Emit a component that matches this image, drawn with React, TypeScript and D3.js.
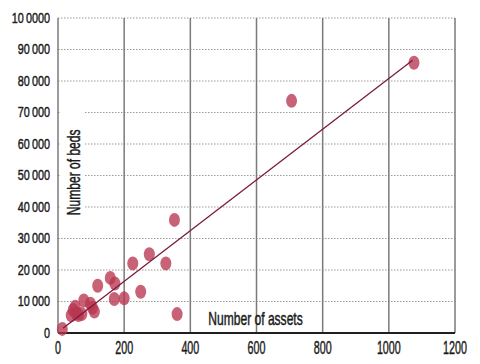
import * as d3 from 'd3';
import React, { useEffect, useRef } from 'react';

// number of assets vs number of beds
const assets = [13, 40, 46, 52, 55, 62, 72, 78, 98, 104, 110, 120, 158, 172, 170, 200, 226, 250, 276, 326, 352, 360, 706, 1076];
const beds = [1300, 5600, 7300, 8300, 6200, 5700, 6000, 10300, 9300, 8000, 6800, 15000, 17500, 15700, 10800, 11000, 22100, 13100, 25000, 22100, 35900, 6000, 73700, 85800];

// fitted line end points
const trendAssets = [15, 1072];
const trendBeds = [1500, 86600];

const xTicks = [0, 200, 400, 600, 800, 1000, 1200];
const yTicks = [0, 10000, 20000, 30000, 40000, 50000, 60000, 70000, 80000, 90000, 100000];
const yTickLabels = ['0', '10\u2009000', '20\u2009000', '30\u2009000', '40\u2009000', '50\u2009000', '60\u2009000', '70\u2009000', '80\u2009000', '90\u2009000', '10\u20090000'];

const FONT = '"Liberation Sans", Arial, sans-serif';

const App = () => {
  const ref = useRef<SVGSVGElement>(null);

  useEffect(() => {
    const width = 480, height = 364;
    const margin = { top: 18, right: 25, bottom: 31, left: 58 };

    const svg = d3.select(ref.current);
    svg.selectAll('*').remove();

    const x = d3.scaleLinear().domain([0, 1200]).range([margin.left, width - margin.right]);
    const y = d3.scaleLinear().domain([0, 100000]).range([height - margin.bottom, margin.top]);

    // condensed looking text: squeeze horizontally, slight stroke to thicken
    const label = (g, tx, ty, txt, size, sx, anchor, rot = 0) => {
      g.append('g')
        .attr('transform', `translate(${tx},${ty}) rotate(${rot}) scale(${sx},1)`)
        .append('text')
        .attr('text-anchor', anchor)
        .attr('font-family', FONT)
        .attr('font-size', size)
        .attr('fill', '#1a1a1a')
        .attr('stroke', '#1a1a1a')
        .attr('stroke-width', 0.45)
        .text(txt);
    };

    // horizontal dotted grid
    svg.append('g')
      .selectAll('line')
      .data(yTicks.slice(1))
      .join('line')
      .attr('x1', x(0))
      .attr('x2', x(1200))
      .attr('y1', d => y(d))
      .attr('y2', d => y(d))
      .attr('stroke', '#9a9a9a')
      .attr('stroke-width', 1)
      .attr('stroke-dasharray', '1.5,1.5');

    // vertical solid grid
    svg.append('g')
      .selectAll('line')
      .data(xTicks)
      .join('line')
      .attr('x1', d => x(d))
      .attr('x2', d => x(d))
      .attr('y1', y(100000))
      .attr('y2', y(0))
      .attr('stroke', '#7a7a7a')
      .attr('stroke-width', 1.5);

    // y title with white backing
    svg.append('rect')
      .attr('x', x(0) + 3).attr('y', y(72500))
      .attr('width', 23).attr('height', 113)
      .attr('fill', '#fff');
    label(svg, x(0) + 22, y(51000), 'Number of beds', 18, 0.67, 'middle', -90);

    // x axis
    svg.append('line')
      .attr('x1', x(0)).attr('x2', x(1200))
      .attr('y1', y(0)).attr('y2', y(0))
      .attr('stroke', '#1f1f1f')
      .attr('stroke-width', 2.2);

    label(svg, x(600) - 1, y(0) - 8, 'Number of assets', 18, 0.67, 'middle');

    const xg = svg.append('g');
    xTicks.forEach(d => label(xg, x(d), y(0) + 21, String(d), 18.5, 0.58, 'middle'));

    const yg = svg.append('g');
    yTicks.forEach((d, i) => label(yg, x(0) - 8, y(d) + 4.5, yTickLabels[i], 15.5, 0.7, 'end'));

    // dots
    svg.append('g')
      .selectAll('ellipse')
      .data(assets.map((a, i) => ({ a, b: beds[i] })))
      .join('ellipse')
      .attr('cx', d => x(d.a))
      .attr('cy', d => y(d.b))
      .attr('rx', 5.5)
      .attr('ry', 7)
      .attr('fill', '#b8364f')
      .attr('fill-opacity', 0.78);

    // trend line
    const line = d3.line<number>()
      .x(d => x(trendAssets[d]))
      .y(d => y(trendBeds[d]));
    svg.append('path')
      .attr('d', line([0, 1]))
      .attr('fill', 'none')
      .attr('stroke', '#7a1a3c')
      .attr('stroke-width', 1.3);
  }, []);

  return (
    <svg ref={ref} width={480} height={364}
      style={{ position: 'absolute', left: 0, top: 0, background: '#fff' }} />
  );
};

export default App;
